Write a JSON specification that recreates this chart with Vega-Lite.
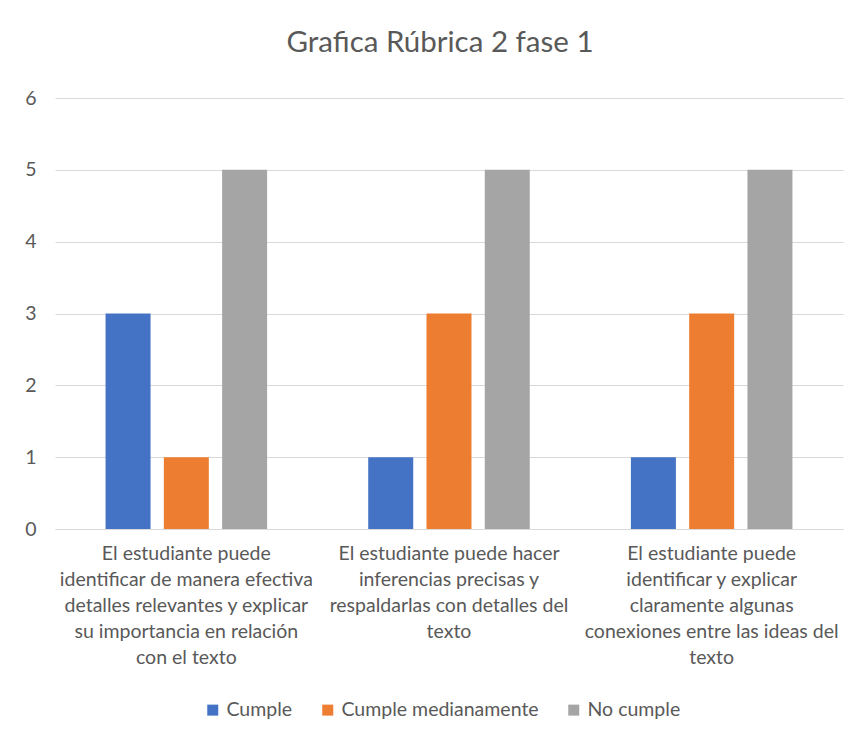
{
  "$schema": "https://vega.github.io/schema/vega-lite/v6.json",
  "autosize": "none",
  "width": 788,
  "height": 431,
  "padding": {"left": 55, "top": 98, "right": 11, "bottom": 209},
  "background": "#FFFFFF",
  "title": {
    "text": "Grafica Rúbrica 2 fase 1",
    "fontSize": 29.5,
    "font": "Lato",
    "fontWeight": "normal",
    "color": "#595959",
    "offset": 30,
    "dx": -9
  },
  "data": {
    "values": [
      {"criterio": "El estudiante puede identificar de manera efectiva detalles relevantes y explicar su importancia en relación con el texto", "nivel": "Cumple", "valor": 3},
      {"criterio": "El estudiante puede identificar de manera efectiva detalles relevantes y explicar su importancia en relación con el texto", "nivel": "Cumple medianamente", "valor": 1},
      {"criterio": "El estudiante puede identificar de manera efectiva detalles relevantes y explicar su importancia en relación con el texto", "nivel": "No cumple", "valor": 5},
      {"criterio": "El estudiante puede hacer inferencias precisas y respaldarlas con detalles del texto", "nivel": "Cumple", "valor": 1},
      {"criterio": "El estudiante puede hacer inferencias precisas y respaldarlas con detalles del texto", "nivel": "Cumple medianamente", "valor": 3},
      {"criterio": "El estudiante puede hacer inferencias precisas y respaldarlas con detalles del texto", "nivel": "No cumple", "valor": 5},
      {"criterio": "El estudiante puede identificar y explicar claramente algunas conexiones entre las ideas del texto", "nivel": "Cumple", "valor": 1},
      {"criterio": "El estudiante puede identificar y explicar claramente algunas conexiones entre las ideas del texto", "nivel": "Cumple medianamente", "valor": 3},
      {"criterio": "El estudiante puede identificar y explicar claramente algunas conexiones entre las ideas del texto", "nivel": "No cumple", "valor": 5}
    ]
  },
  "mark": {"type": "bar"},
  "encoding": {
    "x": {
      "field": "criterio",
      "type": "nominal",
      "sort": null,
      "scale": {"paddingInner": 0.385, "paddingOuter": 0.1925},
      "axis": {
        "title": null,
        "labelAngle": 0,
        "ticks": false,
        "domainColor": "#D9D9D9",
        "domainWidth": 1,
        "labelFont": "Lato",
        "labelFontSize": 19.5,
        "labelColor": "#595959",
        "labelLineHeight": 26,
        "labelBaseline": "top",
        "labelPadding": 15,
        "labelLimit": 400,
        "labelExpr": "indexof(datum.label, 'efectiva') >= 0 ? ['El estudiante puede', 'identificar de manera efectiva', 'detalles relevantes y explicar', 'su importancia en relación', 'con el texto'] : indexof(datum.label, 'inferencias') >= 0 ? ['El estudiante puede hacer', 'inferencias precisas y', 'respaldarlas con detalles del', 'texto'] : ['El estudiante puede', 'identificar y explicar', 'claramente algunas', 'conexiones entre las ideas del', 'texto']"
      }
    },
    "xOffset": {
      "field": "nivel",
      "type": "nominal",
      "sort": ["Cumple", "Cumple medianamente", "No cumple"],
      "scale": {"paddingInner": 0.228, "paddingOuter": 0}
    },
    "y": {
      "field": "valor",
      "type": "quantitative",
      "scale": {"domain": [0, 6], "nice": false},
      "axis": {
        "title": null,
        "values": [0, 1, 2, 3, 4, 5, 6],
        "domain": false,
        "ticks": false,
        "gridColor": "#D9D9D9",
        "gridWidth": 1,
        "labelFont": "Lato",
        "labelFontSize": 19.5,
        "labelColor": "#595959",
        "labelPadding": 19
      }
    },
    "color": {
      "field": "nivel",
      "type": "nominal",
      "sort": ["Cumple", "Cumple medianamente", "No cumple"],
      "scale": {"domain": ["Cumple", "Cumple medianamente", "No cumple"], "range": ["#4472C4", "#ED7D31", "#A5A5A5"]},
      "legend": {
        "title": null,
        "orient": "none",
        "legendX": 148,
        "legendY": 602,
        "direction": "horizontal",
        "symbolType": "square",
        "symbolSize": 121,
        "symbolStrokeWidth": 0,
        "labelFont": "Lato",
        "labelFontSize": 19.5,
        "labelColor": "#595959",
        "labelLimit": 400,
        "labelOffset": 4,
        "columnPadding": 25
      }
    }
  },
  "config": {
    "view": {"stroke": null}
  }
}
